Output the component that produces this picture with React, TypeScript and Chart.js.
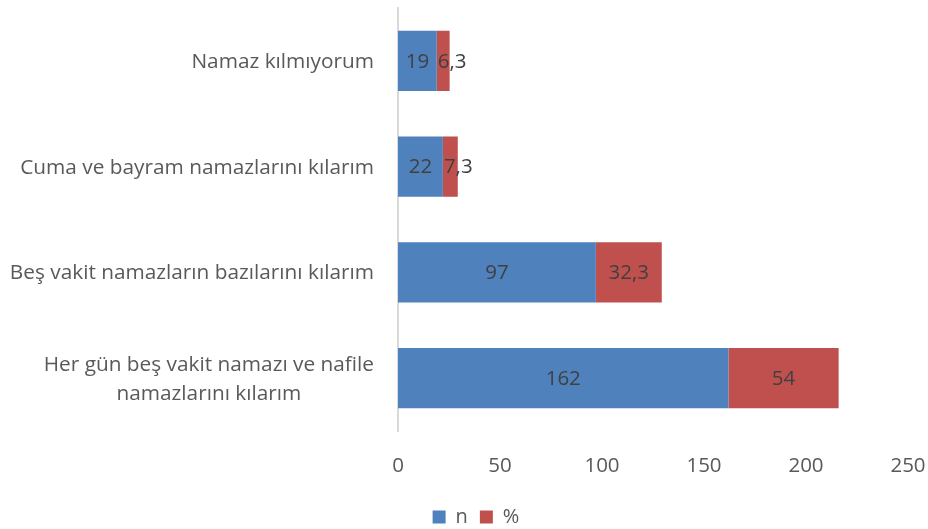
import React, { useEffect, useRef } from "react";
import { Chart, registerables } from "chart.js";

Chart.register(...registerables);

const categories: (string | string[])[] = [
  "Namaz kılmıyorum",
  "Cuma ve bayram namazlarını kılarım",
  "Beş vakit namazların bazılarını kılarım",
  ["Her gün beş vakit namazı ve nafile", "namazlarını kılarım"],
];
const nValues = [19, 22, 97, 162];
const pctValues = [6.3, 7.3, 32.3, 54];
const seriesNames = ["n", "%"];
const xTicks = [0, 50, 100, 150, 200, 250];

const FONT = "'Open Sans'";
const FS = 20.5;
const CAT_FS = 20.8;

const fmt = (v: number) => String(v).replace(".", ",");

const valueLabels = {
  id: "valueLabels",
  afterDatasetsDraw(chart: any) {
    const ctx = chart.ctx;
    ctx.save();
    ctx.font = `${FS}px ${FONT}`;
    ctx.fillStyle = "#404040";
    ctx.textBaseline = "middle";
    chart.data.datasets.forEach((ds: any, di: number) => {
      const meta = chart.getDatasetMeta(di);
      meta.data.forEach((el: any, i: number) => {
        const txt = fmt(ds.data[i]);
        const tw = ctx.measureText(txt).width;
        const bw = Math.abs(el.x - el.base);
        if (tw > bw) {
          ctx.textAlign = "left";
          ctx.fillText(txt, Math.min(el.x, el.base) + 1, el.y + 1);
        } else {
          ctx.textAlign = "center";
          ctx.fillText(txt, (el.x + el.base) / 2, el.y + 1);
        }
      });
    });
    ctx.restore();
  },
};

const catLabels = {
  id: "catLabels",
  afterDraw(chart: any) {
    const ctx = chart.ctx;
    const y = chart.scales.y;
    const right = chart.chartArea.left - 24;
    const lh = 29;
    ctx.save();
    ctx.font = `${CAT_FS}px ${FONT}`;
    ctx.fillStyle = "#595959";
    ctx.textBaseline = "middle";
    categories.forEach((c, i) => {
      const lines = Array.isArray(c) ? c : [c];
      const widths = lines.map((l) => ctx.measureText(l).width);
      const w = Math.max(...widths);
      const cx = right - w / 2;
      const py = y.getPixelForValue(i);
      const y0 = py - ((lines.length - 1) * lh) / 2;
      ctx.textAlign = "center";
      lines.forEach((l, k) => {
        ctx.fillText(l, cx, y0 + k * lh + 1);
      });
    });
    ctx.restore();
  },
};

export default function App() {
  const ref = useRef<HTMLCanvasElement>(null);
  useEffect(() => {
    if (!ref.current) return;
    const chart = new Chart(ref.current, {
      type: "bar",
      data: {
        labels: categories as any,
        datasets: [
          {
            label: seriesNames[0],
            data: nValues,
            backgroundColor: "#4F81BD",
            categoryPercentage: 0.57,
            barPercentage: 1,
          },
          {
            label: seriesNames[1],
            data: pctValues,
            backgroundColor: "#C0504D",
            categoryPercentage: 0.57,
            barPercentage: 1,
          },
        ],
      },
      options: {
        indexAxis: "y",
        animation: false,
        responsive: false,
        layout: { padding: { top: 8, right: 0, left: 24, bottom: -8 } },
        scales: {
          x: {
            stacked: true,
            min: 0,
            max: 250,
            afterBuildTicks: (s: any) => {
              s.ticks = xTicks.map((v) => ({ value: v }));
            },
            grid: { display: false, drawTicks: false },
            border: { display: false },
            ticks: {
              padding: 23,
              color: "#595959",
              font: { family: FONT, size: FS },
            },
            afterFit: (s: any) => {
              s.height = 64;
              s.paddingRight = 20;
            },
          },
          y: {
            stacked: true,
            grid: { display: false, drawTicks: false },
            border: { display: true, color: "#D9D9D9", width: 2 },
            ticks: { display: false },
            afterFit: (s: any) => {
              s.width = 374;
            },
          },
        },
        plugins: {
          legend: {
            position: "bottom",
            labels: {
              boxWidth: 13,
              boxHeight: 13,
              padding: 12,
              color: "#595959",
              font: { family: FONT, size: 20 },
            },
          },
          tooltip: { enabled: false },
        },
      },
      plugins: [valueLabels, catLabels],
    });
    return () => chart.destroy();
  }, []);
  return (
    <div style={{ position: "fixed", left: 0, top: 0, width: 928, height: 529, background: "#fff" }}>
      <canvas ref={ref} width={928} height={529} />
    </div>
  );
}
